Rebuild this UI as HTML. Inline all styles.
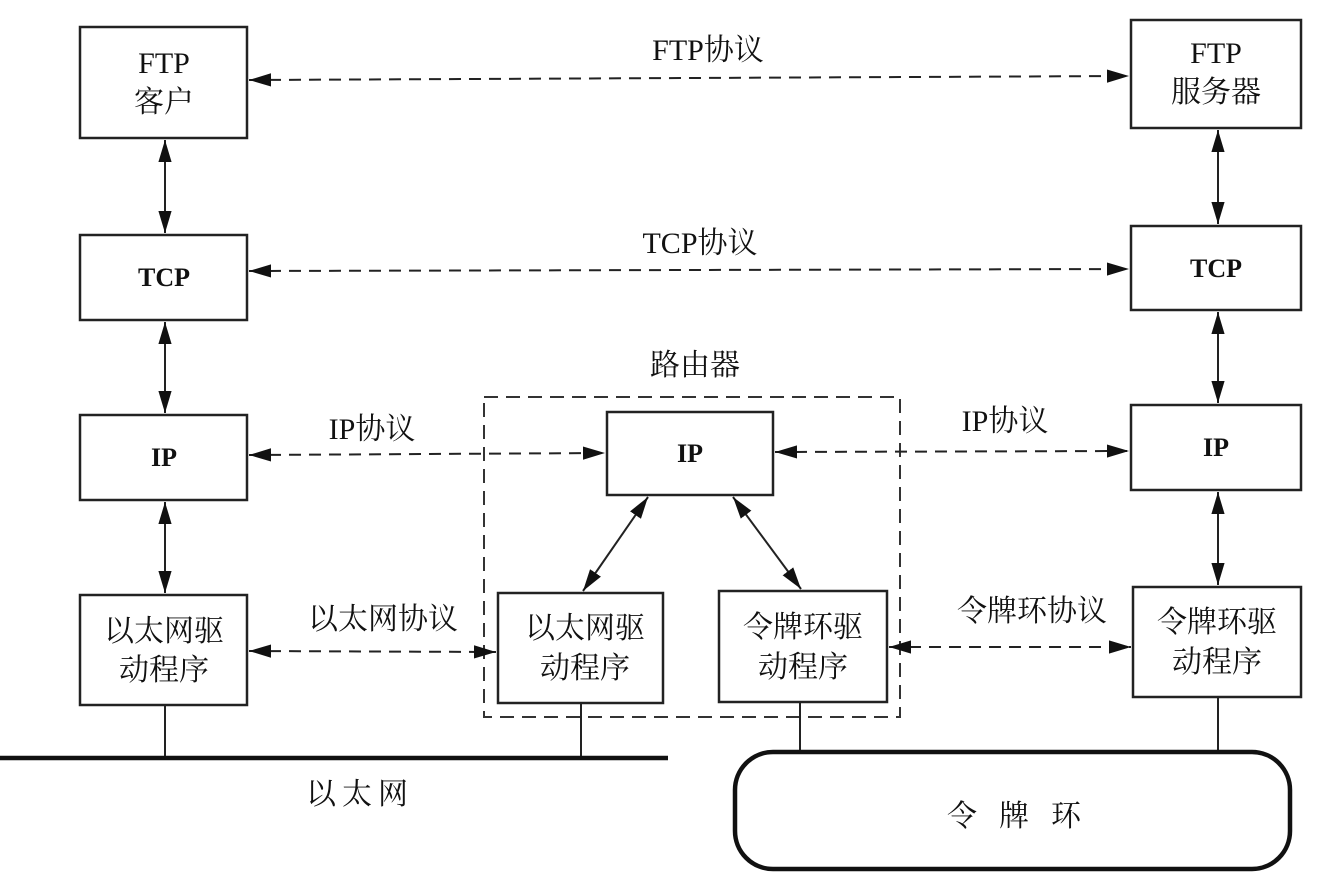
<!DOCTYPE html>
<html><head><meta charset="utf-8"><style>
html,body{margin:0;padding:0;background:#fff;}
svg{display:block}
text{font-family:"Liberation Serif","Noto Serif CJK SC",serif;fill:#111;}
</style></head><body>
<svg width="1323" height="876" viewBox="0 0 1323 876" xmlns="http://www.w3.org/2000/svg">
<defs>
<marker id="b" viewBox="0 0 10 10" refX="10" refY="5" markerWidth="22" markerHeight="22" markerUnits="userSpaceOnUse" orient="auto-start-reverse"><path d="M0,2 L10,5 L0,8 z" fill="#111"/></marker>
</defs>
<g fill="none" stroke="#222" stroke-width="2.5">
<rect x="80" y="27" width="167" height="111"/>
<rect x="80" y="235" width="167" height="85"/>
<rect x="80" y="415" width="167" height="85"/>
<rect x="80" y="595" width="167" height="110"/>
<rect x="1131" y="20" width="170" height="108"/>
<rect x="1131" y="226" width="170" height="84"/>
<rect x="1131" y="405" width="170" height="85"/>
<rect x="1133" y="587" width="168" height="110"/>
<rect x="607" y="412" width="166" height="83"/>
<rect x="498" y="593" width="165" height="110"/>
<rect x="719" y="591" width="168" height="111"/>
</g>
<rect x="484" y="397" width="416" height="320" fill="none" stroke="#333" stroke-width="2" stroke-dasharray="14,8"/>
<g stroke="#222" stroke-width="2">
<line x1="165" y1="705" x2="165" y2="758"/>
<line x1="581" y1="703" x2="581" y2="758"/>
<line x1="800" y1="702" x2="800" y2="752"/>
<line x1="1218" y1="697" x2="1218" y2="752"/>
</g>
<line x1="0" y1="758" x2="668" y2="758" stroke="#111" stroke-width="4.5"/>
<rect x="735" y="752" width="555" height="117" rx="38" fill="none" stroke="#111" stroke-width="4.5"/>
<g stroke="#222" stroke-width="2" stroke-dasharray="12,8" fill="none" marker-start="url(#b)" marker-end="url(#b)">
<line x1="249" y1="80" x2="1129" y2="76"/>
<line x1="249" y1="271" x2="1129" y2="269"/>
<line x1="249" y1="455" x2="605" y2="453"/>
<line x1="775" y1="452" x2="1129" y2="451"/>
<line x1="249" y1="651" x2="496" y2="652"/>
<line x1="889" y1="647" x2="1131" y2="647"/>
</g>
<g stroke="#222" stroke-width="2" fill="none" marker-start="url(#b)" marker-end="url(#b)">
<line x1="165" y1="140" x2="165" y2="233"/>
<line x1="165" y1="322" x2="165" y2="413"/>
<line x1="165" y1="502" x2="165" y2="593"/>
<line x1="1218" y1="130" x2="1218" y2="224"/>
<line x1="1218" y1="312" x2="1218" y2="403"/>
<line x1="1218" y1="492" x2="1218" y2="585"/>
<line x1="648" y1="497" x2="583" y2="591"/>
<line x1="733" y1="497" x2="801" y2="589"/>
</g>
<g font-size="30" text-anchor="middle">
<text x="164" y="73">FTP</text><text x="164" y="112">客户</text>
<text x="164" y="286" font-weight="bold" font-size="26">TCP</text>
<text x="164" y="466" font-weight="bold" font-size="26">IP</text>
<text x="164" y="641">以太网驱</text><text x="164" y="680">动程序</text>
<text x="1216" y="63">FTP</text><text x="1216" y="102">服务器</text>
<text x="1216" y="277" font-weight="bold" font-size="26">TCP</text>
<text x="1216" y="456" font-weight="bold" font-size="26">IP</text>
<text x="1217" y="632">令牌环驱</text><text x="1217" y="672">动程序</text>
<text x="690" y="462" font-weight="bold" font-size="26">IP</text>
<text x="585" y="638">以太网驱</text><text x="585" y="678">动程序</text>
<text x="803" y="637">令牌环驱</text><text x="803" y="677">动程序</text>
<text x="708" y="60">FTP协议</text>
<text x="700" y="253">TCP协议</text>
<text x="695" y="375">路由器</text>
<text x="372" y="439">IP协议</text>
<text x="1005" y="431">IP协议</text>
<text x="383" y="629">以太网协议</text>
<text x="1032" y="621">令牌环协议</text>
<text x="360" y="804" letter-spacing="6">以太网</text>
<text x="1025" y="826" letter-spacing="22">令牌环</text>
</g>
</svg>
</body></html>
